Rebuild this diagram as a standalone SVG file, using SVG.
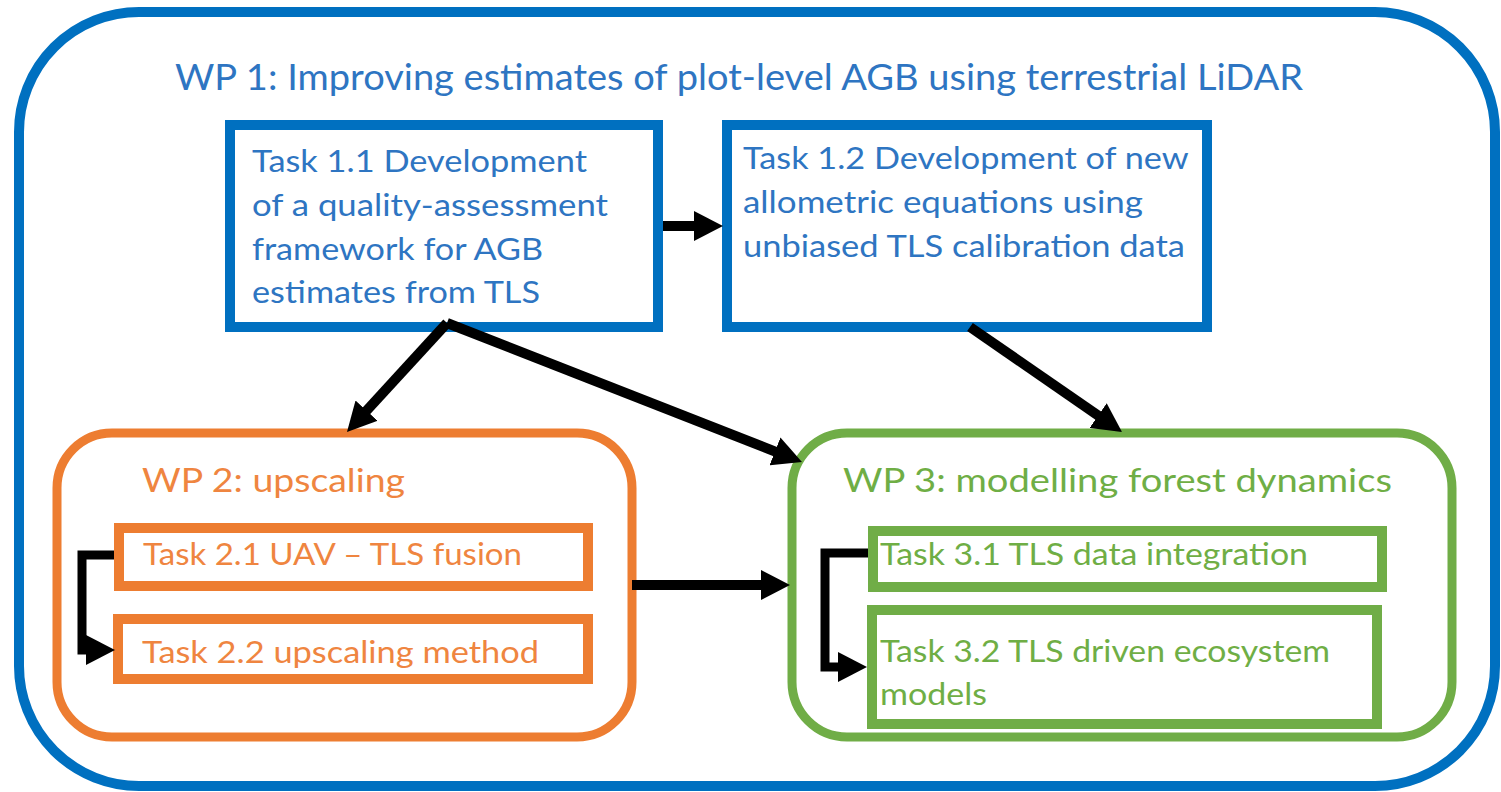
<svg xmlns="http://www.w3.org/2000/svg" width="1501" height="792" viewBox="0 0 1501 792">
  <style>
    text { font-family: Lato, "Open Sans", "Liberation Sans", sans-serif; }
    .wp1 { fill: none; stroke: #0070C0; stroke-width: 10; }
    .t-blue { fill: #2E75C2; }
    .t-orange { fill: #EF8540; }
    .t-green { fill: #6FAE45; }
    .box-blue { fill: #ffffff; stroke: #0070C0; stroke-width: 10; }
    .box-orange { fill: #ffffff; stroke: #ED7D31; stroke-width: 10; }
    .box-green { fill: #ffffff; stroke: #70AD47; stroke-width: 10; }
    .wp-orange { fill: #ffffff; stroke: #ED7D31; stroke-width: 9; }
    .wp-green { fill: #ffffff; stroke: #70AD47; stroke-width: 9; }
    .conn { fill: none; stroke: #000000; stroke-width: 10; stroke-linejoin: miter; marker-end: url(#head); }
    .conn-thin { fill: none; stroke: #000000; stroke-width: 9; stroke-linejoin: miter; marker-end: url(#head); }
  </style>
  <defs>
    <marker id="head" markerUnits="userSpaceOnUse" markerWidth="29" markerHeight="30" viewBox="0 0 29 30" refX="1" refY="15" orient="auto">
      <path d="M0,0 L29,15 L0,30 z" fill="#000000"/>
    </marker>
  </defs>

  <rect width="1501" height="792" fill="#ffffff"/>

  <!-- Work package 1 container -->
  <g id="wp1">
    <rect class="wp1" x="19" y="12" width="1476" height="774" rx="120" ry="120"/>
    <text class="t-blue" x="175" y="90" font-size="36" textLength="1128" lengthAdjust="spacingAndGlyphs">WP 1: Improving estimates of plot-level AGB using terrestrial LiDAR</text>
  </g>

  <g id="task11">
    <rect class="box-blue" x="230" y="125" width="428" height="202"/>
    <text class="t-blue" font-size="31">
      <tspan x="252" y="172" textLength="335" lengthAdjust="spacingAndGlyphs">Task 1.1 Development</tspan>
      <tspan x="252" y="216" textLength="356" lengthAdjust="spacingAndGlyphs">of a quality-assessment</tspan>
      <tspan x="252" y="260" textLength="291" lengthAdjust="spacingAndGlyphs">framework for AGB</tspan>
      <tspan x="252" y="303" textLength="288" lengthAdjust="spacingAndGlyphs">estimates from TLS</tspan>
    </text>
  </g>

  <g id="task12">
    <rect class="box-blue" x="727" y="125" width="480" height="202"/>
    <text class="t-blue" font-size="31">
      <tspan x="743" y="169" textLength="445" lengthAdjust="spacingAndGlyphs">Task 1.2 Development of new</tspan>
      <tspan x="743" y="213" textLength="400" lengthAdjust="spacingAndGlyphs">allometric equations using</tspan>
      <tspan x="743" y="257" textLength="442" lengthAdjust="spacingAndGlyphs">unbiased TLS calibration data</tspan>
    </text>
  </g>

  <!-- Work package 2 -->
  <g id="wp2">
    <rect class="wp-orange" x="57" y="433" width="575" height="304" rx="55" ry="55"/>
    <text class="t-orange" x="142" y="492" font-size="33" textLength="263" lengthAdjust="spacingAndGlyphs">WP 2: upscaling</text>
  </g>

  <g id="task21">
    <rect class="box-orange" x="119" y="528" width="469" height="58"/>
    <text class="t-orange" x="143" y="565" font-size="31" textLength="379" lengthAdjust="spacingAndGlyphs">Task 2.1 UAV – TLS fusion</text>
  </g>

  <g id="task22">
    <rect class="box-orange" x="118" y="619" width="470" height="60"/>
    <text class="t-orange" x="142" y="663" font-size="31" textLength="397" lengthAdjust="spacingAndGlyphs">Task 2.2 upscaling method</text>
  </g>

  <!-- Work package 3 -->
  <g id="wp3">
    <rect class="wp-green" x="792" y="433" width="660" height="304" rx="55" ry="55"/>
    <text class="t-green" x="843" y="492" font-size="33" textLength="549" lengthAdjust="spacingAndGlyphs">WP 3: modelling forest dynamics</text>
  </g>

  <g id="task31">
    <rect class="box-green" x="873" y="531" width="509" height="56"/>
    <text class="t-green" x="880" y="565" font-size="31" textLength="428" lengthAdjust="spacingAndGlyphs">Task 3.1 TLS data integration</text>
  </g>

  <g id="task32">
    <rect class="box-green" x="872" y="610" width="505" height="114"/>
    <text class="t-green" font-size="31">
      <tspan x="880" y="662" textLength="450" lengthAdjust="spacingAndGlyphs">Task 3.2 TLS driven ecosystem</tspan>
      <tspan x="880" y="705" textLength="107" lengthAdjust="spacingAndGlyphs">models</tspan>
    </text>
  </g>

  <!-- Connectors -->
  <g id="connectors">
    <path class="conn" d="M663,226 H695"/>
    <path class="conn" d="M447,323 L365.9,411.4"/>
    <path class="conn" d="M447,323 L775.9,451.8"/>
    <path class="conn" d="M970,327 L1099,416.1"/>
    <path class="conn" d="M632,585 H762"/>
    <path class="conn-thin" d="M114,555 H82 V650 H87"/>
    <path class="conn-thin" d="M868,553 H825 V667 H839"/>
  </g>
</svg>
